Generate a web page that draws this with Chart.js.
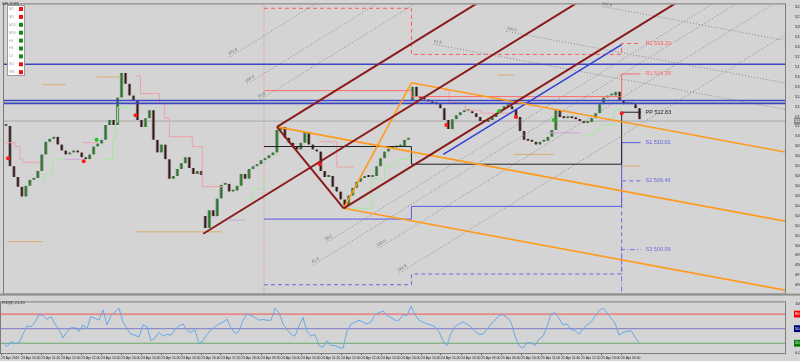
<!DOCTYPE html>
<html>
<head>
<meta charset="utf-8">
<script src="https://cdn.jsdelivr.net/npm/chart.js@4.4.1/dist/chart.umd.min.js"></script>
<style>
  html, body { margin: 0; padding: 0; background: #d4d4d4; }
  #wrap { position: relative; width: 800px; height: 361px; overflow: hidden; }
  #priceCanvas { position: absolute; left: 0; top: 0; }
  #rsiCanvas { position: absolute; left: 0; top: 298px; }
</style>
</head>
<body>
<div id="wrap">
  <canvas id="priceCanvas" width="800" height="298"></canvas>
  <canvas id="rsiCanvas" width="800" height="63"></canvas>
</div>
<script>
// ---------- data ----------
const closes = [
  511.56, 507.83, 506.83, 505.92, 505.01, 506.01, 506.56, 506.74, 507.38, 508.92,
  510.10, 510.38, 510.56, 509.83, 509.28, 508.92, 509.10, 509.19, 509.10, 508.65,
  508.47, 508.92, 509.65, 509.92, 510.28, 511.65, 512.10, 511.65, 514.19, 516.47,
  515.47, 514.38, 513.92, 512.10, 511.47, 512.28, 513.01, 510.28, 509.10, 509.83,
  508.47, 506.65, 506.92, 507.56, 508.10, 508.65, 507.65, 507.10, 507.38, 507.01,
  502.10, 503.74, 503.19, 504.83, 506.10, 506.19, 505.47, 505.56, 506.01, 507.10,
  506.65, 507.56, 507.83, 508.01, 508.38, 508.56, 508.83, 509.10, 511.19, 511.47,
  510.47, 510.01, 509.65, 509.38, 510.01, 511.01, 509.83, 509.38, 509.19, 507.38,
  506.83, 506.92, 505.92, 505.47, 504.74, 504.19, 505.10, 505.83, 506.38, 506.74,
  506.92, 506.83, 506.92, 507.83, 508.56, 509.19, 509.47, 509.56, 509.65, 509.65,
  510.28, 510.47, 515.19, 514.28, 514.10, 514.01, 513.83, 513.65, 513.56, 513.19,
  512.10, 511.28, 512.19, 512.56, 512.83, 512.92, 512.92, 512.74, 512.38, 512.01,
  511.92, 512.10, 512.38, 512.74, 513.10, 513.38, 513.38, 513.10, 512.38, 511.10,
  510.28, 510.19, 510.10, 509.83, 510.10, 510.19, 510.56, 511.19, 513.01, 512.38,
  512.28, 512.38, 512.28, 512.19, 512.01, 511.83, 511.92, 512.28, 512.74, 513.56,
  514.19, 514.38, 514.38, 514.74, 513.92, 513.56, 513.56, 513.56, 513.19, 512.19
];
// opens after the overnight gaps
const gapOpens = { 50: 503.20, 102: 513.90 };

const rsiValues = [
  21.2, 13.5, 23.1, 19.2, 21.2, 38.5, 55.8, 53.8, 63.5, 78.8,
  76.9, 69.2, 75.0, 59.6, 48.1, 30.8, 44.2, 51.9, 51.9, 44.2,
  57.7, 50.0, 75.0, 71.2, 67.3, 88.5, 57.7, 76.9, 84.6, 92.3,
  63.5, 50.0, 38.5, 36.5, 32.7, 57.7, 53.8, 25.0, 30.8, 42.3,
  34.6, 38.5, 36.5, 48.1, 55.8, 59.6, 46.2, 42.3, 48.1, 19.2,
  25.0, 38.5, 48.1, 53.8, 59.6, 63.5, 69.2, 51.9, 40.4, 44.2,
  67.3, 80.8, 76.9, 73.1, 67.3, 69.2, 67.3, 67.3, 92.3, 82.7,
  59.6, 48.1, 38.5, 34.6, 55.8, 73.1, 44.2, 34.6, 38.5, 15.4,
  11.5, 25.0, 15.4, 15.4, 11.5, 9.6, 44.2, 59.6, 63.5, 67.3,
  63.5, 59.6, 63.5, 78.8, 82.7, 86.5, 76.9, 73.1, 67.3, 67.3,
  78.8, 76.9, 96.2, 78.8, 67.3, 63.5, 59.6, 57.7, 53.8, 44.2,
  25.0, 15.4, 40.4, 53.8, 59.6, 63.5, 59.6, 53.8, 44.2, 38.5,
  38.5, 48.1, 59.6, 67.3, 76.9, 78.8, 73.1, 63.5, 34.6, 15.4,
  9.6, 21.2, 21.2, 15.4, 28.8, 34.6, 53.8, 80.8, 82.7, 71.2,
  57.7, 59.6, 48.1, 46.2, 38.5, 50.0, 57.7, 63.5, 75.0, 86.5,
  92.3, 82.7, 71.2, 61.5, 36.5, 42.3, 44.2, 46.2, 32.7, 21.2
];
const rsiLevels = [80, 50, 20];
const rsiTicks = [0, 20, 50, 80, 100];

const priceTicks = [
  522.56, 521.64, 520.72, 519.80, 518.88, 517.96, 517.04, 516.12, 515.20, 514.28,
  513.36, 512.44, 511.52, 510.60, 509.68, 508.76, 507.84, 506.92, 506.00, 505.08,
  504.16, 503.24, 502.32, 501.40, 500.48, 499.56, 498.64, 497.72, 496.80
];
const bidPrice = 512.01;

const timeLabels = [
  '23 Apr 2019', '23 Apr 10:40', '23 Apr 11:20', '23 Apr 12:00', '23 Apr 12:40', '23 Apr 13:20',
  '23 Apr 14:00', '23 Apr 14:40', '23 Apr 15:20', '23 Apr 16:00', '23 Apr 16:40', '23 Apr 17:20',
  '23 Apr 18:00', '24 Apr 09:20', '24 Apr 10:00', '24 Apr 10:40', '24 Apr 11:20', '24 Apr 12:00',
  '24 Apr 12:40', '24 Apr 13:20', '24 Apr 14:00', '24 Apr 14:40', '24 Apr 15:20', '24 Apr 16:00',
  '25 Apr 09:00', '25 Apr 09:40', '25 Apr 10:20', '25 Apr 11:00', '25 Apr 11:40', '25 Apr 12:20',
  '25 Apr 13:00', '26 Apr 09:00'
];
const labelBars = [
  0, 5, 10, 15, 20, 25, 30, 35, 40, 45, 50, 55, 60, 65, 70, 75,
  80, 85, 90, 95, 100, 105, 110, 115, 120, 125, 130, 135, 140, 145, 150, 155
];

// daily pivots (bar where each day starts)
const dayStarts = [65.25, 102.25, 155];
const dayEnd = 159.75;
const r2Levels = [522.47, 518.19, 519.20];
const r1Levels = [514.83, 514.28, 516.38];
const ppLevels = [509.65, 508.01, 512.83];
const s1Levels = [502.92, 504.10, 510.01];
const s2Levels = [496.83, 497.83, 506.46];
const s3Levels = [487.65, 487.65, 500.09];

// pitchfork anchors [bar, price]
const redFork = [[50.0, 501.56], [68.5, 511.47], [85.25, 503.92]];
const orangeFork = [[68.5, 511.47], [85.25, 503.92], [102.25, 515.56]];
// fibonacci levels beyond the tines: [level, first bar]
const redUpperFibs = [[0.618, 64.25], [1.0, 61.0], [1.618, 56.75], [2.618, 55.25]];
const redLowerFibs = [[0.382, 81.0], [0.618, 77.75], [1.0, 94.0], [1.618, 99.25]];
const orangeUpperFibs = [[0.618, 107.75], [1.0, 126.0], [1.618, 150.0]];

const blueTrend = [[110.25, 508.92], [155, 519.10]];
const blueLevels = [517.28, 513.92, 513.65];
const separatorBar = 65.25;

// short level marks [from bar, to bar, price]
const tanMarks = [
  [1, 9.75, 500.83], [9.75, 15.5, 515.38], [23.25, 29.25, 516.10], [33, 54.75, 501.74],
  [124, 128, 516.28], [128, 138, 508.92], [154.75, 159.75, 507.83]
];

// trailing stop steps [bar, price], null = break
const upperStops = [
  [0.25, 510.01], [2.75, 509.65], [4, 508.47], [4.75, 508.19], [9, 508.19], null,
  [19.75, 510.01], [23.5, 510.01], null,
  [33, 516.19], [34.25, 514.56], [37.75, 514.56], [39, 513.65], [40.25, 512.28], [41.5, 510.56],
  [46.75, 510.56], [47.25, 509.65], [49.25, 509.65], [49.75, 505.92], [55.25, 505.92], null,
  [79, 510.10], [83, 510.10], [83.5, 507.74], [87.75, 507.74], null,
  [110.5, 514.83], [111.75, 513.74], [115.5, 513.74], [115.75, 513.01], [119.25, 513.01],
  [119.75, 512.74], [127.25, 512.74]
];
const lowerStops = [
  [9.75, 506.38], [10.25, 507.10], [12.25, 508.47], [15.25, 508.47], null,
  [24.75, 508.47], [27.25, 510.28], [28, 511.92], [28.5, 513.28], [31.5, 513.28], null,
  [60.5, 504.83], [62.25, 505.74], [65.25, 506.65], null,
  [87.25, 503.92], [92.25, 506.65], [95.5, 507.83], [99, 508.47], [101.75, 508.92], null,
  [146, 510.74], [148, 511.19], [149.75, 511.65], [153, 513.01], [154.75, 513.19]
];
const flatStops = [
  [15.25, 508.47], [19.75, 508.47], null,
  [56.5, 502.83], [60.5, 502.83], null,
  [136.5, 510.92], [144.75, 510.92]
];

const sellSignals = [[1, 508.56], [20, 508.28], [33, 512.56], [79.25, 508.01], [111, 511.65], [128.5, 512.38], [155, 512.74]];
const buySignals = [[23.25, 510.28], [124.25, 512.92], [138, 512.10]];

const tfNames = ['M1', 'M5', 'M15', 'M30', 'H1', 'H4', 'D1', 'W1', 'MN'];
const tfTrend = [-1, -1, 1, 1, 1, 1, 1, -1, -1];

// ---------- helpers ----------
const X_MAX = 196;
const FONT = 'Liberation Sans';

function forkOf(p) {
  const mx = (p[1][0] + p[2][0]) / 2, my = (p[1][1] + p[2][1]) / 2;
  const slope = (my - p[0][1]) / (mx - p[0][0]);
  const at = (q, x) => q[1] + slope * (x - q[0]);
  return {
    median: x => at(p[0], x),
    t1: x => at(p[1], x),
    t2: x => at(p[2], x)
  };
}

function lineSet(points, color, width, dash, order) {
  return {
    type: 'line',
    data: points.map(p => p ? { x: p[0], y: p[1] } : { x: null, y: null }),
    borderColor: color, borderWidth: width, borderDash: dash || [],
    pointRadius: 0, spanGaps: false, order: order || 1, yAxisID: 'y'
  };
}

function ray(fn, from) {
  return [[from, fn(from)], [X_MAX, fn(X_MAX)]];
}

function steps(levels) {
  const pts = levels.map((v, k) => [dayStarts[k], v]);
  pts.push([dayEnd, levels[levels.length - 1]]);
  return pts;
}

// ---------- price panel datasets ----------
const datasets = [];

// candles
const candleData = closes.map((c, i) => {
  const o = gapOpens[i] !== undefined ? gapOpens[i] : (i === 0 ? c : closes[i - 1]);
  return { x: i + 0.5, y: [o, c] };
});
datasets.push({
  type: 'bar',
  data: candleData,
  backgroundColor: candleData.map(d => d.y[1] >= d.y[0] ? '#1f7f22' : '#3c1414'),
  borderColor: '#8a8a8a',
  borderWidth: { left: 1, right: 1, top: 0, bottom: 0 },
  borderSkipped: false,
  barThickness: 3,
  minBarLength: 2,
  grouped: false,
  order: 5,
  yAxisID: 'y'
});

// horizontal levels
blueLevels.forEach(v => datasets.push(lineSet([[0, v], [X_MAX, v]], '#3b47c2', 1.6, null, 3)));
datasets.push(lineSet([[0, bidPrice], [X_MAX, bidPrice]], '#a8a8a8', 1, null, 6));

// day separator
datasets.push(lineSet([[separatorBar, 490], [separatorBar, 530]], '#e07a7a', 1, [1, 2], 6));

// short level marks
tanMarks.forEach(m => datasets.push(lineSet([[m[0], m[2]], [m[1], m[2]]], '#d9ad6e', 1, null, 4)));

// trailing stops (horizontal first, then the step)
datasets.push(Object.assign(lineSet(upperStops, '#f0a0a8', 1, null, 4), { stepped: true }));
datasets.push(Object.assign(lineSet(lowerStops, '#a8e6a0', 1, null, 4), { stepped: true }));
datasets.push(Object.assign(lineSet(flatStops, '#c8a2d8', 1, null, 4), { stepped: true }));

// pivots
const pivotDefs = [
  { name: 'R2', levels: r2Levels, color: '#ff5a5a', dash: [4, 3] },
  { name: 'R1', levels: r1Levels, color: '#ff6b6b', dash: [] },
  { name: 'PP', levels: ppLevels, color: '#222222', dash: [] },
  { name: 'S1', levels: s1Levels, color: '#5a5ae0', dash: [] },
  { name: 'S2', levels: s2Levels, color: '#6a6ae0', dash: [4, 3] },
  { name: 'S3', levels: s3Levels, color: '#7070e0', dash: [5, 2, 1, 2] }
];
pivotDefs.forEach(p => datasets.push(Object.assign(lineSet(steps(p.levels), p.color, 1, p.dash, 2), { stepped: true })));

// pitchforks
const red = forkOf(redFork), orange = forkOf(orangeFork);
const fibLabels = [];
function addFibs(list, tine, median, color) {
  list.forEach(([lvl, from]) => {
    const fn = x => tine(x) + lvl * (tine(x) - median(x));
    datasets.push(lineSet(ray(fn, from), color, 1, [1, 2], 3));
    fibLabels.push({ x: from, fn, text: (lvl * 100).toFixed(1) });
  });
}
addFibs(redUpperFibs, red.t1, red.median, '#8a8a8a');
addFibs(redLowerFibs, red.t2, red.median, '#8a8a8a');
addFibs(orangeUpperFibs, orange.t2, orange.median, '#8a8a8a');

datasets.push(lineSet(ray(red.median, redFork[0][0]), '#8b1a1a', 2, null, 1));
datasets.push(lineSet(ray(red.t1, redFork[1][0]), '#8b1a1a', 2, null, 1));
datasets.push(lineSet(ray(red.t2, redFork[2][0]), '#8b1a1a', 2, null, 1));
datasets.push(lineSet([redFork[1], redFork[2]], '#8b1a1a', 2, null, 1));

datasets.push(lineSet(ray(orange.median, orangeFork[0][0]), '#ff9a1e', 1.6, null, 1));
datasets.push(lineSet(ray(orange.t1, orangeFork[1][0]), '#ff9a1e', 1.6, null, 1));
datasets.push(lineSet(ray(orange.t2, orangeFork[2][0]), '#ff9a1e', 1.6, null, 1));
datasets.push(lineSet([orangeFork[1], orangeFork[2]], '#ff9a1e', 1.6, null, 1));

datasets.push(lineSet(blueTrend, '#2f3fd8', 1.5, null, 1));

// signal dots
datasets.push({
  type: 'scatter', data: sellSignals.map(p => ({ x: p[0], y: p[1] })),
  pointRadius: 2, pointBackgroundColor: '#ff1a1a', pointBorderWidth: 0, order: 0, yAxisID: 'y'
});
datasets.push({
  type: 'scatter', data: buySignals.map(p => ({ x: p[0], y: p[1] })),
  pointRadius: 2, pointBackgroundColor: '#22c022', pointBorderWidth: 0, order: 0, yAxisID: 'y'
});

// ---------- plugins ----------
const frame = {
  id: 'frame',
  beforeDraw(chart) {
    const { ctx } = chart;
    ctx.save();
    ctx.fillStyle = '#d4d4d4';
    ctx.fillRect(0, 0, chart.width, chart.height);
    ctx.restore();
  },
  afterDraw(chart) {
    const { ctx, chartArea: a } = chart;
    ctx.save();
    ctx.strokeStyle = '#7c7c7c';
    ctx.lineWidth = 1;
    ctx.strokeRect(a.left - 0.5, a.top - 0.5, a.right - a.left + 1, a.bottom - a.top + 1);
    ctx.restore();
  }
};

const priceOverlay = {
  id: 'priceOverlay',
  afterDraw(chart) {
    const { ctx } = chart;
    const xs = chart.scales.x, ys = chart.scales.y;
    ctx.save();
    // separator band under the price panel
    ctx.fillStyle = '#8f8f8f';
    ctx.fillRect(0, chart.chartArea.bottom, chart.width, 2);

    // pivot labels
    ctx.font = '5.5px ' + FONT;
    ctx.textBaseline = 'middle';
    pivotDefs.forEach(p => {
      const v = p.levels[p.levels.length - 1];
      ctx.fillStyle = p.color;
      ctx.fillText(p.name + ' ' + v.toFixed(2), xs.getPixelForValue(dayEnd) + 5, ys.getPixelForValue(v));
    });

    // fibonacci labels along the lines
    ctx.fillStyle = '#6e6e6e';
    ctx.font = '4px ' + FONT;
    fibLabels.forEach(f => {
      const x0 = xs.getPixelForValue(f.x), y0 = ys.getPixelForValue(f.fn(f.x));
      const x1 = xs.getPixelForValue(f.x + 4), y1 = ys.getPixelForValue(f.fn(f.x + 4));
      if (y0 < chart.chartArea.top || y0 > chart.chartArea.bottom) return;
      ctx.save();
      ctx.translate(x0, y0);
      ctx.rotate(Math.atan2(y1 - y0, x1 - x0));
      ctx.textBaseline = 'bottom';
      ctx.fillText(f.text, 0, -1);
      ctx.restore();
    });

    // symbol caption
    ctx.fillStyle = '#333';
    ctx.font = '4px ' + FONT;
    ctx.textBaseline = 'top';
    ctx.fillText('NFLX,M5', 2, 2);

    // trend box
    ctx.fillStyle = '#ffffff';
    ctx.fillRect(7, 5, 18, 71);
    ctx.strokeStyle = '#9a9a9a';
    ctx.strokeRect(7.5, 5.5, 17, 70);
    ctx.font = '3.5px ' + FONT;
    ctx.textBaseline = 'middle';
    tfNames.forEach((n, k) => {
      const y = 9 + k * 7.9;
      ctx.fillStyle = '#a0a0a0';
      ctx.fillText(n, 9, y);
      ctx.fillStyle = tfTrend[k] > 0 ? '#138a13' : '#f01010';
      ctx.fillRect(19, y - 2, 4, 4);
    });
    ctx.restore();
  }
};

new Chart(document.getElementById('priceCanvas'), {
  data: { datasets },
  options: {
    responsive: false,
    animation: false,
    layout: { padding: { left: 1, top: 2, right: 0, bottom: 1 } },
    plugins: { legend: { display: false }, tooltip: { enabled: false } },
    scales: {
      x: { type: 'linear', min: 0, max: X_MAX, offset: false, display: false },
      y: {
        position: 'right',
        min: 496.01, max: 522.83,
        afterFit: s => { s.width = 15; },
        afterBuildTicks: s => { s.ticks = priceTicks.concat([bidPrice]).map(v => ({ value: v })); },
        grid: { display: false },
        border: { display: false },
        ticks: {
          font: { size: 4, family: FONT },
          color: ctx => ctx.tick.value === bidPrice ? '#ffffff' : '#222',
          padding: 2,
          showLabelBackdrop: true,
          backdropColor: ctx => ctx.tick.value === bidPrice ? '#8c8c8c' : 'rgba(0,0,0,0)',
          backdropPadding: 1,
          callback: v => v.toFixed(2)
        }
      }
    }
  },
  plugins: [frame, priceOverlay]
});

// ---------- RSI panel ----------
const rsiColors = { 80: '#ee6a6a', 50: '#8c8cc8', 20: '#6aa86a' };
const rsiBoxes = { 80: '#ff0000', 50: '#00007c', 20: '#007c00' };
const rsiSets = rsiLevels.map(v => ({
  type: 'line', data: [{ x: 0, y: v }, { x: X_MAX, y: v }],
  borderColor: rsiColors[v], borderWidth: 1.2, pointRadius: 0, order: 2
}));
rsiSets.push({
  type: 'line',
  data: rsiValues.map((v, i) => ({ x: i + 0.5, y: v })),
  borderColor: '#6aa8ea', borderWidth: 1, pointRadius: 0, tension: 0, order: 1
});

const rsiOverlay = {
  id: 'rsiOverlay',
  afterDraw(chart) {
    const { ctx } = chart;
    ctx.save();
    ctx.fillStyle = '#333';
    ctx.font = '4px ' + FONT;
    ctx.textBaseline = 'top';
    ctx.fillText('RSI(8) ' + rsiValues[rsiValues.length - 1].toFixed(2), 2, 3);
    ctx.restore();
  }
};

new Chart(document.getElementById('rsiCanvas'), {
  data: { datasets: rsiSets },
  options: {
    responsive: false,
    animation: false,
    layout: { padding: { left: 1, top: 1, right: 0, bottom: 0 } },
    plugins: { legend: { display: false }, tooltip: { enabled: false } },
    scales: {
      x: {
        type: 'linear', min: 0, max: X_MAX, offset: false,
        afterFit: s => { s.height = 8; },
        afterBuildTicks: s => { s.ticks = labelBars.map(v => ({ value: v })); },
        grid: { drawOnChartArea: false, tickLength: 2, color: '#555' },
        border: { display: false },
        ticks: {
          font: { size: 3.4, family: FONT }, color: '#222', padding: 1,
          maxRotation: 0, autoSkip: false, align: 'start',
          callback: v => timeLabels[labelBars.indexOf(v)]
        }
      },
      y: {
        position: 'right', min: 0, max: 104,
        afterFit: s => { s.width = 15; },
        afterBuildTicks: s => { s.ticks = rsiTicks.map(v => ({ value: v })); },
        grid: { display: false },
        border: { display: false },
        ticks: {
          font: { size: 4, family: FONT },
          color: ctx => rsiBoxes[ctx.tick.value] ? '#ffffff' : '#222',
          padding: 2,
          showLabelBackdrop: true,
          backdropColor: ctx => rsiBoxes[ctx.tick.value] || 'rgba(0,0,0,0)',
          backdropPadding: 1,
          callback: v => v.toFixed(2)
        }
      }
    }
  },
  plugins: [frame, rsiOverlay]
});
</script>
</body>
</html>
